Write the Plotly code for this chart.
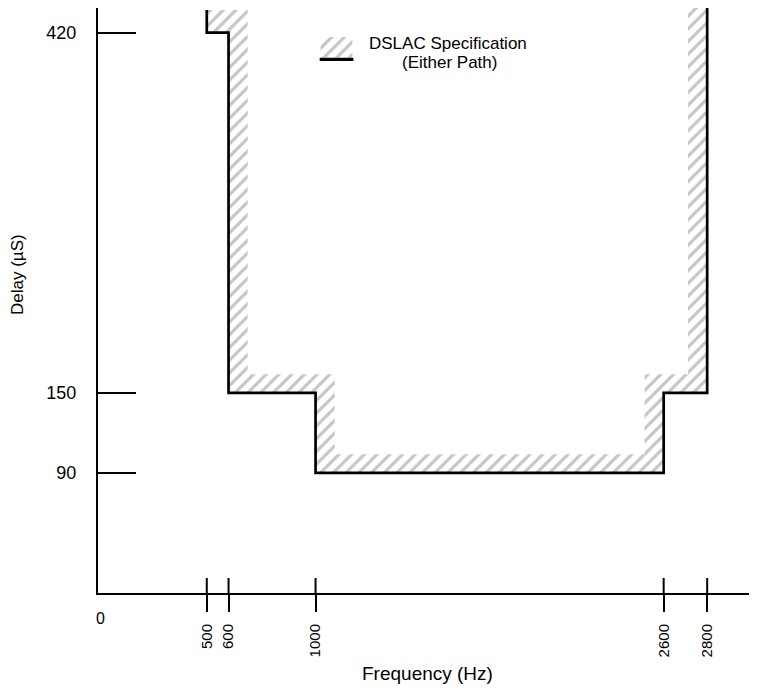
import plotly.graph_objects as go

# ------------------------------------------------------------------------------------------------------------
# Data
freq_pts = [500, 500, 600, 600, 1000, 1000, 2600, 2600, 2800, 2800]
delay_pts = [437, 420, 420, 150, 150, 90, 90, 150, 150, 440]

x_ticks = [500, 600, 1000, 2600, 2800]
y_ticks = [90, 150, 420]

legend_lines = ["DSLAC Specification", "(Either Path)"]

# width of the hatched band, in data units
band_dx = 88
band_dy = 14

FONT = "Liberation Sans, Arial, Helvetica, sans-serif"

# ------------------------------------------------------------------------------------------------------------
# Hatched band on the inner side of the step curve
mid = (freq_pts[0] + freq_pts[-1]) / 2
side = [band_dx if f < mid else -band_dx for f in freq_pts]
inner_x = [freq_pts[2] + band_dx] + [f + s for f, s in zip(freq_pts[3:9], side[3:9])] + [freq_pts[9] - band_dx]
inner_y = [delay_pts[0]] + [d + band_dy for d in delay_pts[3:9]] + [delay_pts[9]]
hatch_x = freq_pts + inner_x[::-1]
hatch_y = delay_pts + inner_y[::-1]

hatch = dict(shape="/", size=9, solidity=0.35, fgcolor="#8c8c8c", bgcolor="white")

fig = go.Figure()
fig.add_trace(go.Scatter(x=hatch_x, y=hatch_y, fill="toself", fillcolor="white",
                         fillpattern=hatch, mode="lines", line=dict(width=0),
                         hoverinfo="skip", showlegend=False))
fig.add_trace(go.Scatter(x=freq_pts, y=delay_pts, mode="lines",
                         line=dict(color="black", width=2.7), showlegend=False))

# Legend swatch drawn in a small inset
fig.add_trace(go.Scatter(x=[0, 1, 1, 0, 0], y=[0.15, 0.15, 1, 1, 0.15], fill="toself",
                         fillcolor="white", fillpattern=hatch, mode="lines",
                         line=dict(width=0), xaxis="x2", yaxis="y2", showlegend=False))
fig.add_trace(go.Scatter(x=[-0.03, 1.03], y=[0.05, 0.05], mode="lines",
                         line=dict(color="black", width=4), xaxis="x2", yaxis="y2",
                         showlegend=False))

# Upper half of the x ticks (they cross the axis line)
for f in x_ticks:
    fig.add_shape(type="line", xref="x", yref="y", x0=f, x1=f,
                  ysizemode="pixel", yanchor=0, y0=0, y1=15,
                  line=dict(color="black", width=2))

# page body has an 8px margin, so the figure is a bit smaller than the window
fig.update_layout(
    width=749, height=682,
    margin=dict(l=90, r=0, t=0, b=97),
    plot_bgcolor="white", paper_bgcolor="white",
    font=dict(family=FONT, color="black", size=15),
    xaxis=dict(range=[0, 3029], tickvals=x_ticks, ticktext=[str(v) for v in x_ticks],
               tickangle=-90, ticks="outside", ticklen=17, tickwidth=2, tickcolor="black",
               ticklabelstandoff=6, showline=True, linewidth=2, linecolor="black",
               showgrid=False, zeroline=False, tickfont=dict(size=15)),
    yaxis=dict(range=[0, 438.5], tickvals=y_ticks, ticks="inside", ticklen=38, tickwidth=2,
               tickcolor="black", ticklabelstandoff=16, showline=True, linewidth=2,
               linecolor="black", showgrid=False, zeroline=False, tickfont=dict(size=18)),
    xaxis2=dict(domain=[0.3354, 0.3885], range=[-0.05, 1.05], anchor="y2", visible=False),
    yaxis2=dict(domain=[0.9094, 0.9504], range=[0, 1], anchor="x2", visible=False),
)

# Texts
fig.add_annotation(x=0, y=0, xref="x", yref="y", text="0", showarrow=False,
                   xanchor="center", xshift=2, yshift=-25, font=dict(size=16))
fig.add_annotation(x=0.5, y=-0.1368, xref="paper", yref="paper", text="Frequency (Hz)",
                   showarrow=False, xanchor="center", yanchor="middle", font=dict(size=19))
fig.add_annotation(x=-0.1214, y=0.5453, xref="paper", yref="paper", text="Delay (µS)",
                   textangle=-90, showarrow=False, xanchor="center", yanchor="middle",
                   font=dict(size=17))
fig.add_annotation(x=0.531, y=0.9385, xref="paper", yref="paper", text=legend_lines[0],
                   showarrow=False, xanchor="center", yanchor="middle", font=dict(size=17))
fig.add_annotation(x=0.534, y=0.906, xref="paper", yref="paper", text=legend_lines[1],
                   showarrow=False, xanchor="center", yanchor="middle", font=dict(size=17))

fig.write_html("out.html")
